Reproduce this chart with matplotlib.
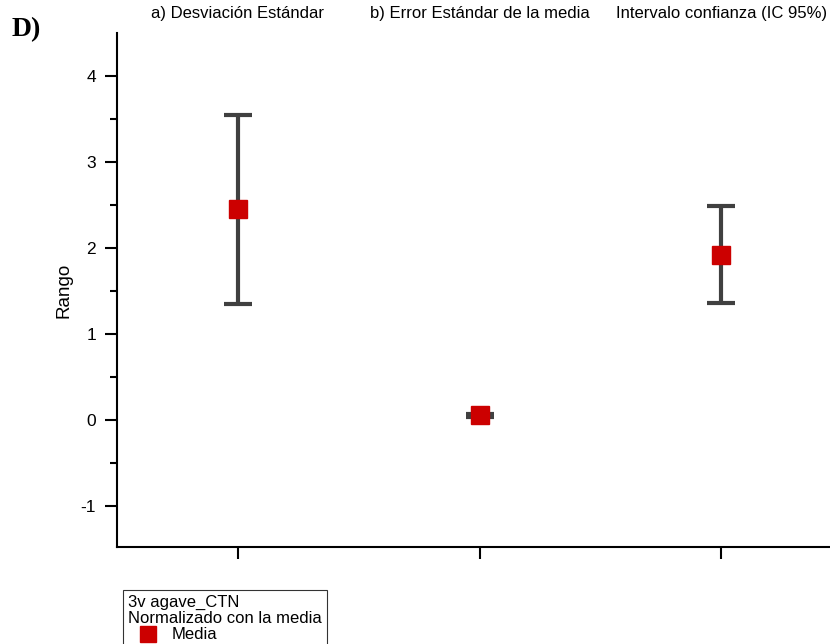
import matplotlib
matplotlib.use('Agg')
import matplotlib.pyplot as plt
from matplotlib.lines import Line2D

# Datos
posiciones = [1, 2, 3]
etiquetas = ['a) Desviación Estándar', 'b) Error Estándar de la media', 'Intervalo confianza (IC 95%)']
medias = [2.45, 0.05, 1.92]
errores = [1.10, 0.02, 0.565]

plt.rcParams['font.family'] = ['Liberation Sans', 'DejaVu Sans']
plt.rcParams['axes.unicode_minus'] = False

fig = plt.figure(figsize=(8.3, 6.44), dpi=100)
ax = fig.add_axes([117 / 830, 1 - 547 / 644, 1 - 117 / 830, (547 - 33) / 644])

# Barras de error y medias
ax.errorbar(posiciones, medias, yerr=errores, fmt='none', ecolor='#404040',
            elinewidth=3, capsize=10.4, capthick=3, zorder=2)
ax.plot(posiciones, medias, 's', color='#cc0000', markersize=12.5, zorder=3)

ax.set_xlim(0.5, 3.45)
ax.set_ylim(-1.48, 4.5)
ax.set_xticks(posiciones)
ax.set_xticklabels([])
ax.set_yticks([-1, 0, 1, 2, 3, 4])
ax.set_yticks([-0.5, 0.5, 1.5, 2.5, 3.5], minor=True)
ax.tick_params(axis='both', which='major', direction='out', length=8.5, width=1.5, labelsize=12.5, pad=6.5)
ax.tick_params(axis='y', which='minor', direction='out', length=5, width=1.5)
ax.spines['top'].set_visible(False)
ax.spines['right'].set_visible(False)
ax.spines['left'].set_linewidth(1.5)
ax.spines['bottom'].set_linewidth(1.5)
ax.set_ylabel('Rango', fontsize=13.5, labelpad=6)

# Etiquetas superiores
for x, txt in zip(posiciones, etiquetas):
    ax.text(x, 1.037, txt, transform=ax.get_xaxis_transform(), ha='center', va='center', fontsize=12)

# Letra del panel
fig.text(12 / 830, 1 - 30 / 644, 'D)', fontsize=20, fontweight='bold',
         family='Liberation Serif', va='center', ha='left')

# Leyenda
handle = Line2D([], [], marker='s', color='#cc0000', linestyle='none', markersize=11.5)
leg = fig.legend([handle], ['Media'], title='3v agave_CTN\nNormalizado con la media',
                 loc='upper left', bbox_to_anchor=(123 / 830, 1 - 590 / 644),
                 fontsize=12, title_fontsize=12, frameon=True, fancybox=False,
                 borderpad=0.3, borderaxespad=0, labelspacing=0.1,
                 handletextpad=0.2, handlelength=2.4, alignment='left')
leg.get_title().set_linespacing(1.05)
leg.get_frame().set_edgecolor('black')
leg.get_frame().set_linewidth(0.8)

fig.savefig('out.png', dpi=100)
